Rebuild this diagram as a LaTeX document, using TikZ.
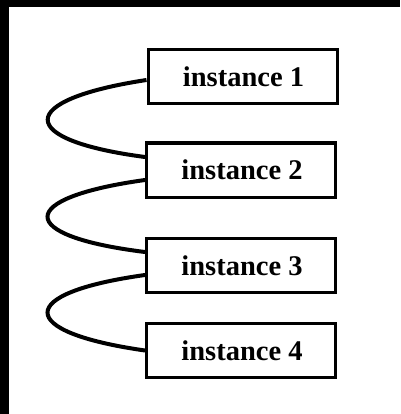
\documentclass[tikz,border=0pt]{standalone}
\usepackage{fontspec}
\setmainfont{Liberation Serif}
\begin{document}
\begin{tikzpicture}[x=1pt,y=-1pt,
  box/.style={draw=black,line width=3pt,minimum width=189pt,minimum height=54pt,inner sep=0pt,font=\fontsize{28.5}{31}\selectfont\bfseries},
  link/.style={draw=black,line width=4pt}]
\useasboundingbox (0,0) rectangle (400,414);
\fill[white] (0,0) rectangle (400,414);
\fill[black] (0,0) rectangle (400,7);
\fill[black] (0,0) rectangle (9,414);
\node[box] (b1) at (242.5,77) {\hspace{2pt}instance 1};
\node[box] (b2) at (241,170) {\hspace{2pt}instance 2};
\node[box] (b3) at (241,265.5) {\hspace{2pt}instance 3};
\node[box] (b4) at (241,350.5) {\hspace{2pt}instance 4};
\draw[link] ([yshift=-3pt]b1.west) .. controls (15,100) and (15,140) .. ([yshift=13pt]b2.west);
\draw[link] ([yshift=-10pt]b2.west) .. controls (15,198) and (15,236) .. ([yshift=13.5pt]b3.west);
\draw[link] ([yshift=-9.5pt]b3.west) .. controls (15,293) and (15,332) .. (b4.west);
\end{tikzpicture}
\end{document}
